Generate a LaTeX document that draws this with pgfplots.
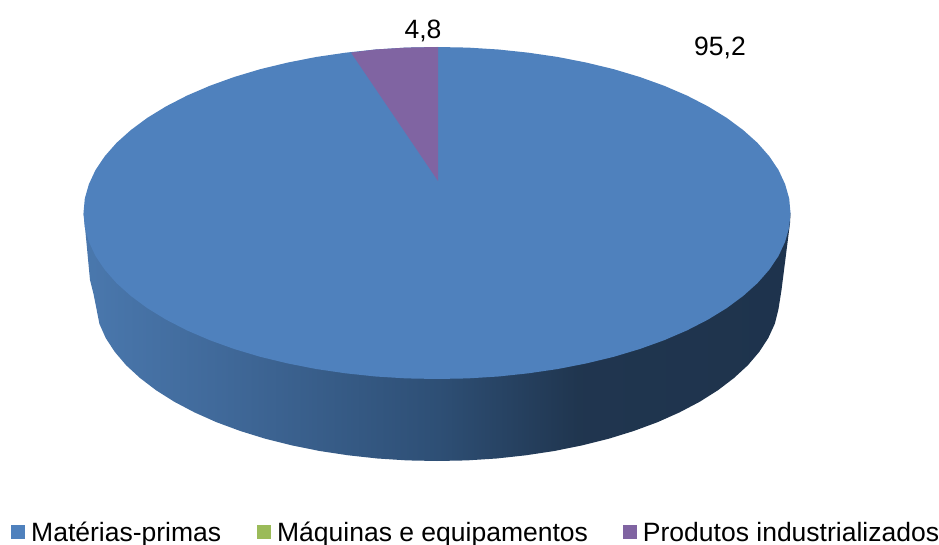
\documentclass[border=0pt]{standalone}
\usepackage{pgfplots}
\pgfplotsset{compat=1.18}
\usepackage{fontspec}
\setmainfont{Liberation Sans}
\definecolor{cblue}{HTML}{4F81BD}
\definecolor{cgreen}{HTML}{9BBB59}
\definecolor{cpurple}{HTML}{8064A2}
\pgfdeclarehorizontalshading{sideshade}{100bp}{
  rgb(0bp)=(0.29,0.47,0.68);
  rgb(25bp)=(0.29,0.47,0.68);
  rgb(35bp)=(0.25,0.41,0.60);
  rgb(50bp)=(0.18,0.31,0.46);
  rgb(60bp)=(0.125,0.21,0.31);
  rgb(75bp)=(0.118,0.20,0.30);
  rgb(100bp)=(0.118,0.20,0.30)}
\begin{document}
\begin{tikzpicture}
\path[use as bounding box] (0,0) rectangle (939pt,545pt);
\begin{axis}[
  at={(0,0)},anchor=south west,
  width=939pt,height=545pt,scale only axis,
  xmin=0,xmax=939,ymin=0,ymax=545,y dir=reverse,
  axis lines=none,clip=false,
  legend columns=3,
  legend style={at={(axis cs:11,532)},anchor=west,draw=none,fill=none,inner sep=0pt,
    font=\fontsize{26.5}{30}\selectfont,
    nodes={inner sep=0pt,anchor=base west},
    /tikz/column 1/.style={column sep=6pt},
    /tikz/column 2/.style={column sep=36pt},
    /tikz/column 3/.style={column sep=6pt},
    /tikz/column 4/.style={column sep=35pt},
    /tikz/column 5/.style={column sep=6pt}},
  legend cell align=left,
  legend image code/.code={\fill[#1,draw=none] (0pt,2pt) rectangle (14pt,16pt);},
]
% side wall
\addplot[forget plot,shading=sideshade,draw=none] coordinates {
(83.5,213) (84.5,222) (90,280) (93.3,293) (96.7,310) (99.4,323.8) (105.7,338) (114.7,351.8) (126.1,365.2) (140,378)
(156,390.2) (174.2,401.7) (194.5,412.4) (216.5,422.2) (240.3,431) (265.5,438.8) (292,445.4)
(319.7,451) (348.2,455.3) (377.4,458.5) (407.1,460.4) (437,461)
(466.9,460.4) (496.6,458.5) (525.8,455.3) (554.3,451) (582,445.4) (608.5,438.8) (633.7,431)
(657.5,422.2) (679.5,412.4) (699.8,401.7) (718,390.2) (734,378) (747.9,365.2) (759.3,351.8)
(768.3,338) (774.8,323.8) (778.4,309.5) (781.5,290) (790,223) (790.5,213)} --cycle;
% top face, Matérias-primas 95,2
\addplot[forget plot,fill=cblue,draw=none] coordinates {
(790.5,213) (789.2,227.5) (785.1,241.8) (778.5,256) (769.2,269.8) (757.4,283.2) (743.1,296)
(726.6,308.2) (707.8,319.7) (687,330.4) (664.2,340.2) (639.8,349) (613.8,356.8) (586.4,363.4)
(557.9,369) (528.5,373.3) (498.4,376.5) (467.8,378.4) (437,379)
(406.2,378.4) (375.6,376.5) (345.5,373.3) (316.1,369) (287.6,363.4) (260.2,356.8) (234.2,349)
(209.8,340.2) (187,330.4) (166.2,319.7) (147.4,308.2) (130.9,296) (116.6,283.2) (104.8,269.8)
(95.5,256) (88.9,241.8) (84.8,227.5) (83.5,213)
(84.8,198.5) (88.9,184.2) (95.5,170) (104.8,156.2) (116.6,142.8) (130.9,130) (147.4,117.8)
(166.2,106.3) (187,95.6) (209.8,85.8) (234.2,77) (260.2,69.2) (287.6,62.6) (316.1,57)
(345.5,52.7) (375.6,49.5) (406.2,47.6) (437,47)
(467.8,47.6) (498.4,49.5) (528.5,52.7) (557.9,57) (586.4,62.6) (613.8,69.2) (639.8,77)
(664.2,85.8) (687,95.6) (707.8,106.3) (726.6,117.8) (743.1,130) (757.4,142.8) (769.2,156.2)
(778.5,170) (785.1,184.2) (789.2,198.5)} --cycle;
% Produtos industrializados 4,8
\addplot[forget plot,fill=cpurple,draw=none] coordinates {
(438,181) (438,47) (406.2,47.6) (375.6,49.5) (351,52.6)} --cycle;
\addlegendimage{fill=cblue}
\addlegendimage{fill=cgreen}
\addlegendimage{fill=cpurple}
\legend{Matérias-primas,Máquinas e equipamentos,Produtos industrializados}
\node[font=\fontsize{26.5}{30}\selectfont,inner sep=0pt] at (axis cs:423,30.5) {4,8};
\node[font=\fontsize{26.5}{30}\selectfont,inner sep=0pt] at (axis cs:720,47.5) {95,2};
\end{axis}
\end{tikzpicture}
\end{document}
